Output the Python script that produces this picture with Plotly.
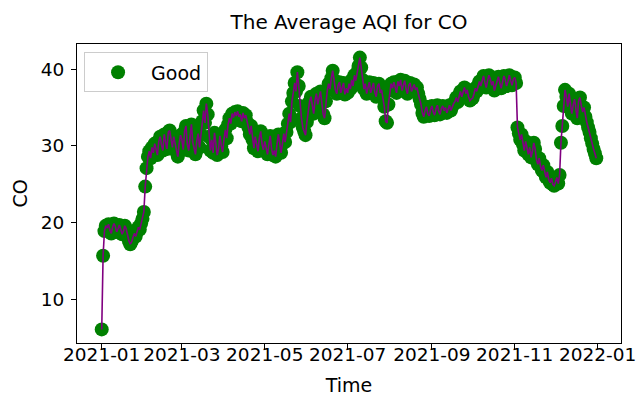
import pandas as pd
import plotly.graph_objects as go

# Daily average CO AQI values, 2021-01-01 .. 2021-12-31
jan = [6.1, 15.7, 18.9, 19.6, 19.3, 19.8, 19.0, 18.6, 19.4, 19.9, 19.5, 18.8, 19.2, 19.7, 19.1, 18.5,
       18.9, 19.6, 19.2, 18.3, 17.6, 17.2, 17.5, 18.1, 18.6, 18.2, 18.9, 19.4, 19.1, 19.9, 20.5]
feb = [21.4, 24.7, 27.1, 28.6, 29.3, 28.4, 29.8, 29.1, 30.3, 29.5, 28.8, 30.6, 31.2, 30.1, 29.4, 31.5,
       30.7, 29.6, 31.8, 32.0, 30.9, 29.8, 31.2, 30.4, 29.2, 28.6, 30.3, 31.4]
mar = [30.8, 29.5, 31.9, 32.6, 30.2, 29.4, 31.1, 32.8, 30.5, 29.6, 28.9, 30.7, 31.6, 29.8,
       31.5, 33.2, 34.6, 33.0, 35.5, 34.1, 31.2,
       29.4, 30.8, 29.1, 31.7, 30.2, 28.8, 29.6, 31.3, 30.0, 29.2]
apr = [30.9, 32.1, 31.0, 32.8, 33.6, 32.9,
       34.2, 33.7, 34.4, 33.9, 34.5, 33.8, 34.1, 33.2, 34.3, 33.6, 34.0, 33.1, 32.4,
       31.5, 32.6, 30.8, 29.7, 31.2, 30.4, 29.3, 31.0, 31.9, 30.2, 29.5]
may = [30.6, 29.8, 28.9, 30.1, 31.3, 29.6, 28.8, 29.4, 28.6, 30.2, 31.5, 30.4, 29.1, 30.3, 31.6, 30.5, 31.8,
       32.9, 34.2, 33.1, 35.8, 36.9, 38.2, 37.1, 39.6, 37.8,
       35.2, 33.6, 32.4, 31.9, 31.4]
jun = [33.1, 34.5, 35.8, 36.4, 35.1, 34.2, 35.9, 36.8, 35.4, 36.2, 37.1, 35.6, 34.1, 33.6, 35.8,
       37.2, 38.1, 37.4, 38.8, 39.8, 38.6, 37.3,
       36.8, 37.9, 38.3, 36.9, 37.6, 38.2, 36.7, 37.5]
jul = [36.9, 38.1, 37.4, 38.6, 37.8, 39.2, 38.5, 39.6, 40.4,
       41.5, 40.2, 38.6,
       37.4, 38.1, 36.8, 37.6, 38.3, 36.9, 37.5, 38.2, 37.0, 36.4, 37.8, 38.1, 36.9, 37.3, 36.2,
       35.1, 33.2, 33.0, 35.4]
aug = [37.2, 38.1, 37.5, 38.3, 37.6, 36.9, 38.4, 37.8, 38.6, 37.2, 37.9, 38.5, 37.4, 36.8, 37.9, 38.2,
       37.1, 37.7, 38.0, 37.3,
       37.6, 36.8, 36.1, 35.4, 34.3, 33.8, 34.6, 35.1, 34.2, 33.9, 34.7]
sep = [35.2, 34.4, 34.0, 34.8, 35.3, 34.5, 34.1, 34.9, 35.2, 34.6, 35.0, 34.3, 34.8, 35.3, 34.6, 35.1, 35.5,
       35.8, 36.3, 35.7, 36.6, 37.1, 36.4, 37.0, 37.6, 36.8, 37.3, 36.4, 35.9, 36.1]
oct_ = [36.2, 36.8, 37.5, 37.1, 37.9, 38.4, 37.8,
        38.6, 39.1, 38.3, 37.6, 38.5, 39.2, 38.7, 37.9, 38.4, 37.2, 37.8, 38.6, 39.0, 38.2, 37.5, 38.3,
        39.1, 38.6, 37.8, 38.4, 39.2, 38.5, 37.9, 38.7]
nov = [38.9, 38.2,
       32.4, 31.6, 30.8, 31.5, 30.2, 29.4, 30.6, 29.7, 28.9, 29.8, 28.5, 29.3, 30.4, 29.6, 28.2, 27.6,
       28.4, 27.3, 26.8, 27.5, 26.4, 25.9, 26.6, 25.6, 25.2, 25.8, 25.0, 24.8]
dec = [25.3, 25.9, 25.1, 26.2,
       30.4, 32.6, 35.2, 37.3,
       36.4, 35.1, 36.8, 35.6, 34.2, 35.3, 36.1, 34.8, 33.6, 35.9, 36.3, 35.2, 34.4, 35.0, 33.8,
       33.1, 32.4, 31.8, 31.0, 30.3, 29.6, 29.0, 28.4]

co_values = jan + feb + mar + apr + may + jun + jul + aug + sep + oct_ + nov + dec
dates = pd.date_range("2021-01-01", periods=len(co_values), freq="D")

tick_dates = ["2021-01-01", "2021-03-01", "2021-05-01", "2021-07-01", "2021-09-01", "2021-11-01", "2022-01-01"]
tick_labels = ["2021-01", "2021-03", "2021-05", "2021-07", "2021-09", "2021-11", "2022-01"]

FONT = "DejaVu Sans"

fig = go.Figure()
fig.add_trace(go.Scatter(
    x=dates, y=co_values, mode="markers", name="Good",
    marker=dict(color="green", size=14, line=dict(width=0)),
))
fig.add_trace(go.Scatter(
    x=dates, y=co_values, mode="lines", showlegend=False,
    line=dict(color="purple", width=1.6),
))

span = dates[-1] - dates[0]
xr = [dates[0] - span * 0.05, dates[-1] + span * 0.05]
ymin, ymax = min(co_values), max(co_values)
yp = (ymax - ymin) * 0.05
yr = [ymin - yp, ymax + yp]

axis_common = dict(
    showline=True, mirror=True, linecolor="black", linewidth=1,
    ticks="outside", ticklen=5, tickcolor="black", tickwidth=1,
    showgrid=False, zeroline=False, automargin=False,
    tickfont=dict(family=FONT, size=18.5, color="black"),
)

W, H = 639, 400
fig.update_layout(
    width=W, height=H,
    margin=dict(l=77, r=18, t=44, b=57),
    paper_bgcolor="white", plot_bgcolor="white",
    font=dict(family=FONT, color="black", size=19),
    title=dict(text="The Average AQI for CO", x=0.5, xref="paper", xanchor="center",
               y=1 - 22 / H, yref="container", yanchor="middle",
               font=dict(family=FONT, size=20, color="black")),
    xaxis=dict(
        **axis_common, type="date", range=xr, tickangle=0,
        tickvals=tick_dates, ticktext=tick_labels, ticklabelstandoff=-10,
        title=dict(text="Time", font=dict(family=FONT, size=19, color="black"), standoff=14),
    ),
    yaxis=dict(
        **axis_common, range=yr, tickvals=[10, 20, 30, 40], ticklabelstandoff=3,
        title=dict(text="CO", font=dict(family=FONT, size=19, color="black"), standoff=8),
    ),
    legend=dict(
        x=0.013, y=0.972, xanchor="left", yanchor="top",
        bgcolor="white", bordercolor="#cccccc", borderwidth=1,
        itemwidth=56,
        font=dict(family=FONT, size=19, color="black"),
    ),
    showlegend=True,
)

# remove the default page margin so the 639x400 figure fills the window exactly
fig.write_html(
    "out.html",
    config={"displayModeBar": False},
    post_script="document.body.style.margin='0';document.body.style.overflow='hidden';",
)
